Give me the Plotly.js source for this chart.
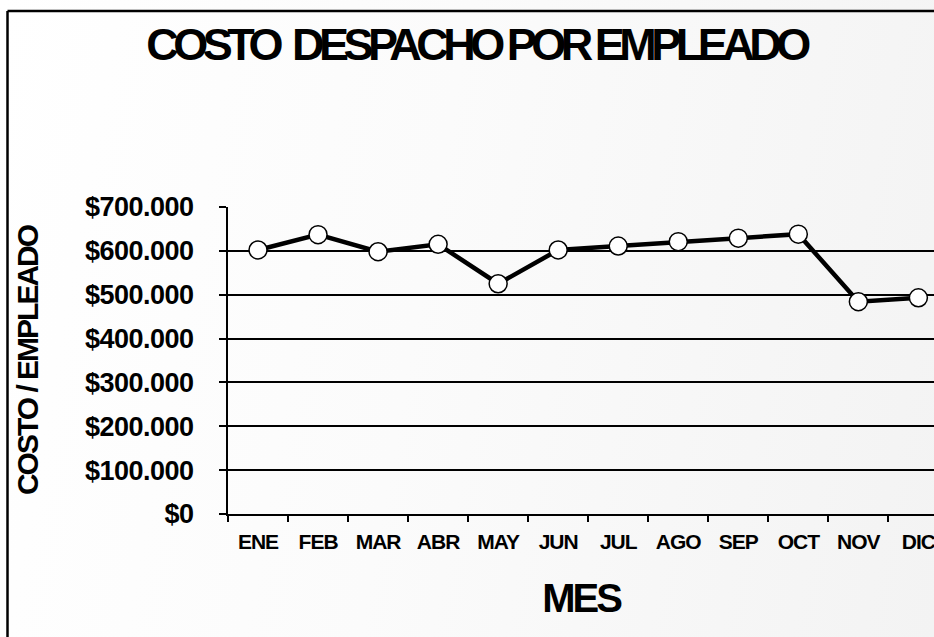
<!DOCTYPE html>
<html>
<head>
<meta charset="utf-8">
<script src="https://cdn.plot.ly/plotly-3.0.1.min.js"></script>
<style>
  html, body { margin: 0; padding: 0; }
  #chart { width: 934px; height: 637px;
    background: linear-gradient(100deg, #ffffff 0%, #fbfbfb 45%, #f3f3f3 100%); }
  .xtick text { letter-spacing: -1px; }
  .ytick text { letter-spacing: -0.5px; }
  .ytitle { letter-spacing: -2px; }
  .gtitle { letter-spacing: -5.5px; }
  .xtitle { letter-spacing: -3px; }
</style>
</head>
<body>
<div id="chart"></div>
<script>
const months = ['ENE','FEB','MAR','ABR','MAY','JUN','JUL','AGO','SEP','OCT','NOV','DIC'];
const costoPorEmpleado = [602000, 637000, 598000, 615000, 525000, 602000, 611000, 621000, 629000, 638000, 484000, 493000];
const yTickValues = [0, 100000, 200000, 300000, 400000, 500000, 600000, 700000];
const yTickLabels = ['$0','$100.000','$200.000','$300.000','$400.000','$500.000','$600.000','$700.000'];
const chartTitle = 'COSTO  DESPACHO POR EMPLEADO';
const xTitle = 'MES';
const yTitle = 'COSTO / EMPLEADO';

const FONT = 'Arial, "Liberation Sans", sans-serif';

const trace = {
  x: months,
  y: costoPorEmpleado,
  type: 'scatter',
  mode: 'lines+markers',
  line: { color: '#000000', width: 4.5 },
  marker: { size: 18, color: '#ffffff', line: { color: '#000000', width: 1.5 } },
  showlegend: false,
  hoverinfo: 'x+y'
};

const px2x = p => (p - 228) / 706;
const px2y = p => (514 - p) / 307;

const layout = {
  width: 934,
  height: 637,
  margin: { l: 228, r: 0, t: 207, b: 123, pad: 0 },
  paper_bgcolor: 'rgba(0,0,0,0)',
  plot_bgcolor: 'rgba(0,0,0,0)',
  font: { family: FONT, color: '#000000' },
  title: {
    text: chartTitle,
    font: { family: FONT, size: 45, weight: 'bold', color: '#000000' },
    x: 476 / 934, xref: 'container', xanchor: 'center',
    y: 1 - 28 / 637, yref: 'container', yanchor: 'top'
  },
  xaxis: {
    type: 'category',
    range: [-0.5, 11.26],
    tickson: 'boundaries',
    ticks: 'outside', ticklen: 6, tickwidth: 1.5, tickcolor: '#000000',
    showline: true, linecolor: '#000000', linewidth: 2,
    showgrid: false, zeroline: false,
    tickfont: { family: FONT, size: 21, weight: 'bold', color: '#000000' },
    ticklabelstandoff: 8,
    title: { text: xTitle, font: { family: FONT, size: 40, weight: 'bold', color: '#000000' }, standoff: 32 },
    automargin: false,
    fixedrange: true
  },
  yaxis: {
    range: [0, 700000],
    tickvals: yTickValues,
    ticktext: yTickLabels,
    ticks: 'outside', ticklen: 7, tickwidth: 1.5, tickcolor: '#000000',
    showline: true, linecolor: '#000000', linewidth: 2,
    showgrid: true, gridcolor: '#000000', gridwidth: 1.5,
    zeroline: false,
    tickfont: { family: FONT, size: 27, weight: 'bold', color: '#000000' },
    ticklabelstandoff: 20,
    title: { text: yTitle, font: { family: FONT, size: 30, weight: 'bold', color: '#000000' }, standoff: 37 },
    automargin: false,
    fixedrange: true
  },
  shapes: [
    { type: 'line', xref: 'paper', yref: 'paper', x0: px2x(7.5), x1: px2x(940), y0: px2y(11), y1: px2y(11),
      line: { color: '#000000', width: 2.5 } },
    { type: 'line', xref: 'paper', yref: 'paper', x0: px2x(7.5), x1: px2x(7.5), y0: px2y(11), y1: px2y(645),
      line: { color: '#000000', width: 2.5 } }
  ]
};

Plotly.newPlot('chart', [trace], layout, { displayModeBar: false, staticPlot: false });
</script>
</body>
</html>
